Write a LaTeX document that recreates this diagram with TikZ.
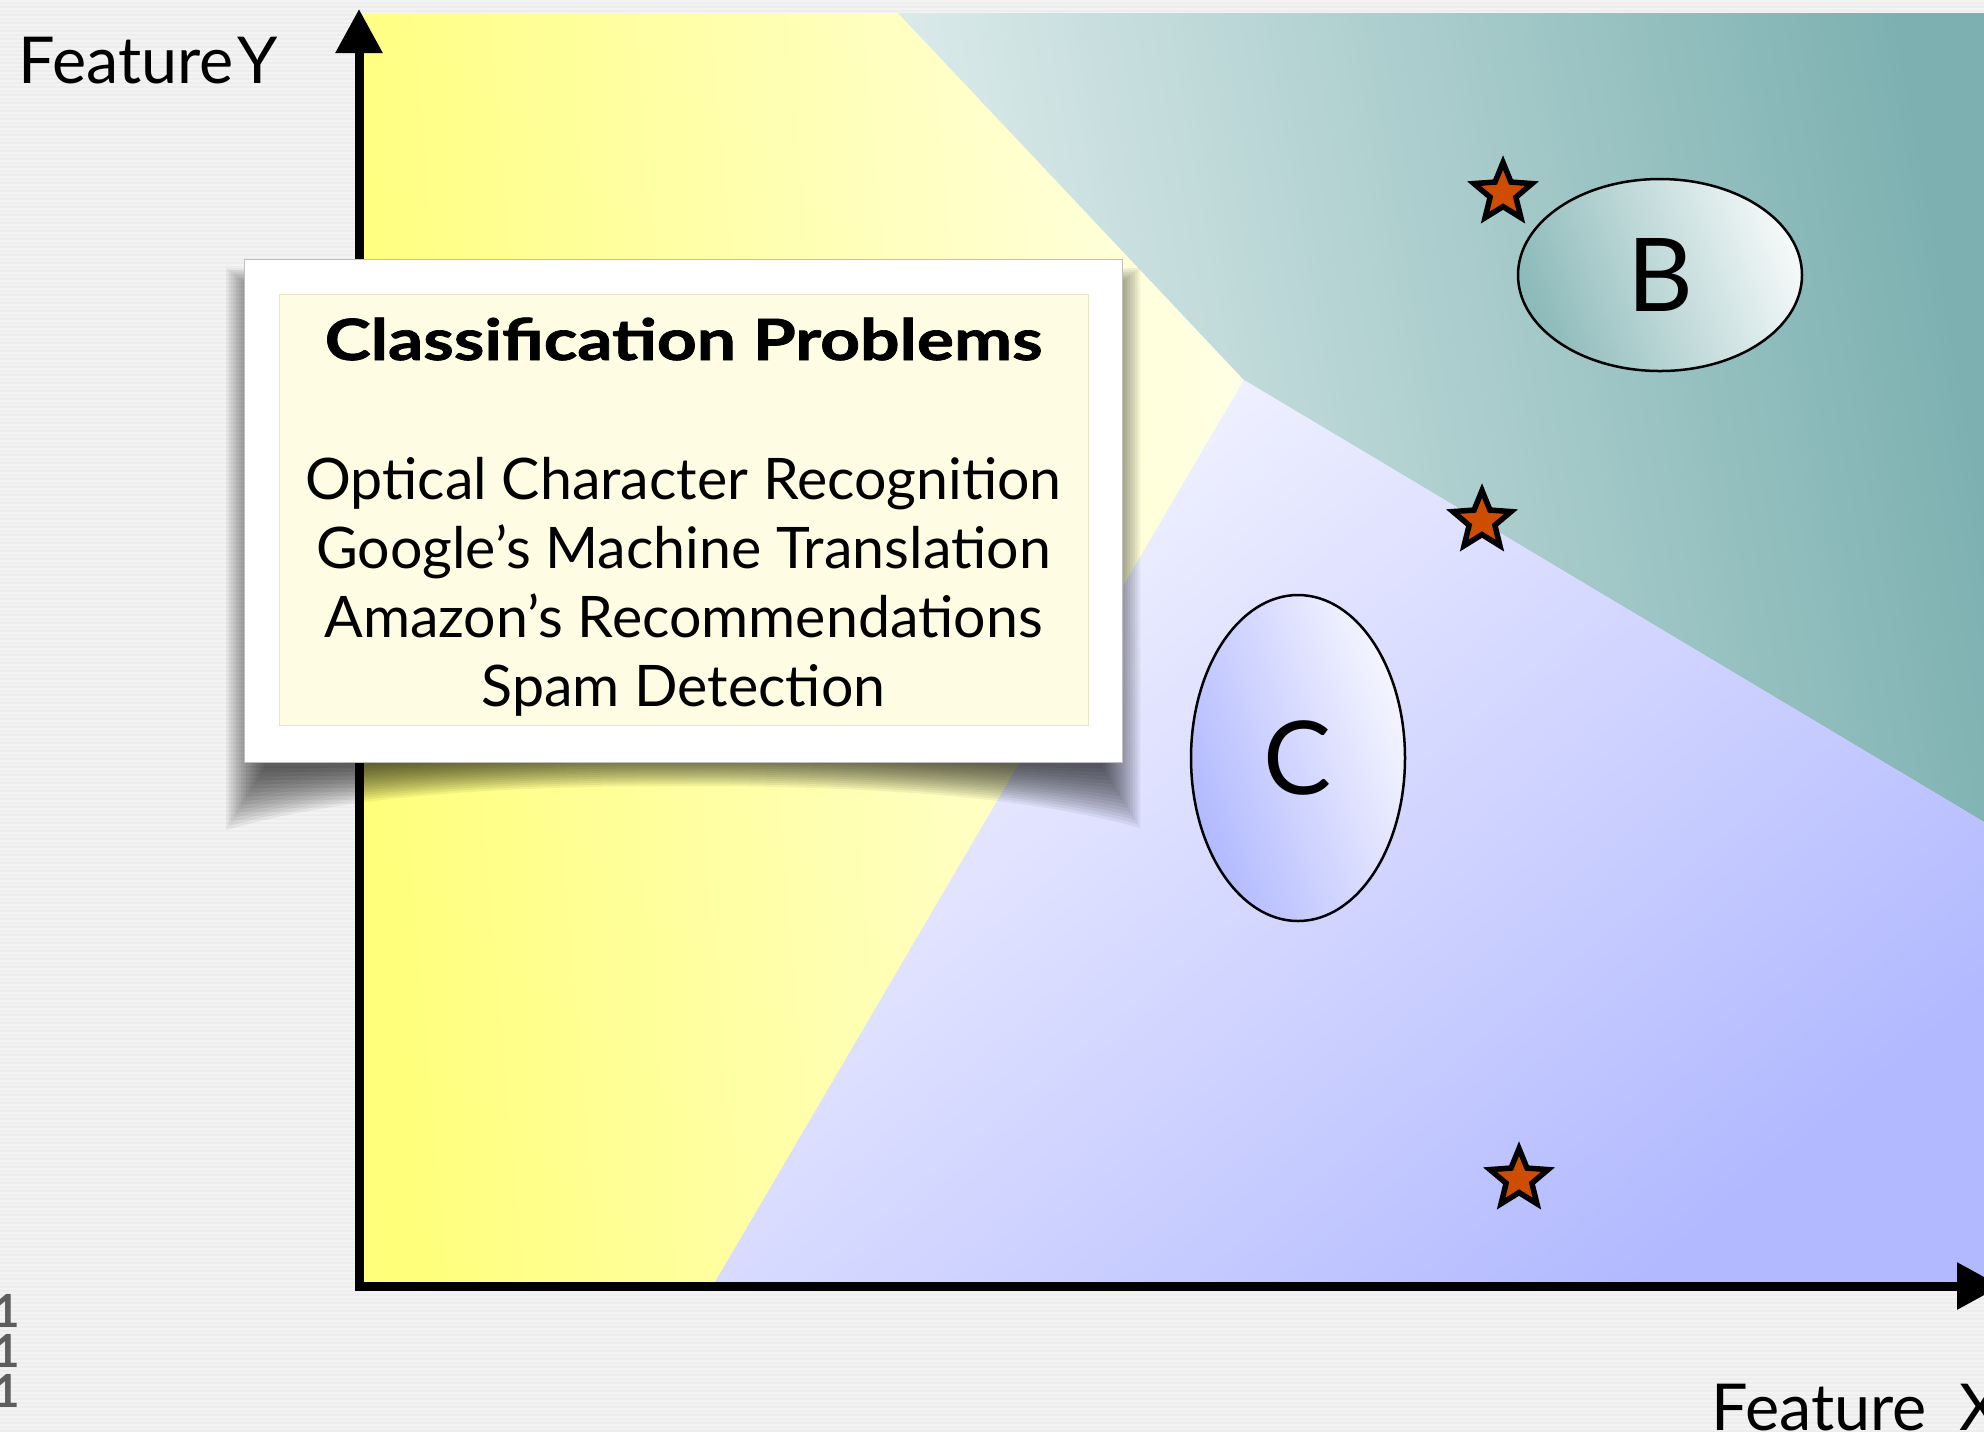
\documentclass[tikz,border=0pt]{standalone}
\usepackage{fontspec}
\setmainfont{Lato}
\usetikzlibrary{shapes.geometric,arrows.meta}

\definecolor{bggray}{HTML}{EDEDED}
\definecolor{bgstripe}{HTML}{F3F3F3}
\definecolor{yelstrong}{HTML}{FFFF7A}
\definecolor{yelpale}{HTML}{FFFFE6}
\definecolor{tealpale}{HTML}{E0EDED}
\definecolor{tealdeep}{HTML}{7DB1B1}
\definecolor{bluepale}{HTML}{F6F6FF}
\definecolor{bluedeep}{HTML}{B2B9FF}
\definecolor{cream}{HTML}{FEFCE3}
\definecolor{creamedge}{HTML}{EAE6CA}
\definecolor{starfill}{HTML}{CF4D00}
\definecolor{ovalteal}{HTML}{8DBABA}
\definecolor{ovaltealpale}{HTML}{F3F8F8}
\definecolor{ovalblue}{HTML}{B0B8FF}
\definecolor{ovalbluepale}{HTML}{F7F7FF}
\definecolor{bitgray}{HTML}{5E5E5E}

\begin{document}
\begin{tikzpicture}[x=0.1mm,y=-0.1mm,
  axisline/.style={line width=0.9mm, line join=miter,
    {Triangle[length=4.4mm,width=4.5mm]}-{Triangle[length=4.4mm,width=4.5mm]}},
  axislabel/.style={inner sep=0, font=\fontsize{18.4pt}{22pt}\selectfont},
  oval/.style={ellipse, draw=black, line width=0.25mm, inner sep=0},
  letter/.style={inner sep=0, font=\fontsize{29pt}{34pt}\selectfont},
  mark star/.style={star, star points=5, star point ratio=2.25,
    minimum size=6.1mm, inner sep=0, draw=black, line width=0.55mm,
    fill=starfill},
  titletext/.style={inner sep=0, font=\fontsize{16.2pt}{19pt}\selectfont\bfseries\addfontfeatures{FakeBold=1.2}},
  itemtext/.style={inner sep=0, font=\fontsize{16.3pt}{19.6pt}\selectfont},
  bits/.style={inner sep=0, text=bitgray, font=\fontsize{13pt}{15pt}\selectfont\bfseries}]

\useasboundingbox (0,0) rectangle (1984,1432);
\clip (0,0) rectangle (1984,1432);

% pinstriped backdrop
\fill[bggray] (0,0) rectangle (1984,1432);
\foreach \s in {0,4,...,1428}
  \fill[bgstripe] (0,\s) rectangle (1984,\s+2);

% the three decision regions
\shade[left color=yelstrong, right color=yelpale, shading angle=95]
  (363,13) -- (898,13) -- (1244,380) -- (715,1282) -- (363,1282) -- cycle;
\shade[left color=tealpale, right color=tealdeep, shading angle=100]
  (898,13) -- (1984,13) -- (1984,822) -- (1244,380) -- cycle;
\shade[top color=bluepale, bottom color=bluedeep, shading angle=40]
  (1244,380) -- (1984,822) -- (1984,1282) -- (715,1282) -- cycle;

% class clusters
\node[oval, minimum width=28.4mm, minimum height=19.2mm,
  left color=ovalteal, right color=ovaltealpale, shading angle=110] (ovalB) at (1660,275) {};
\node[oval, minimum width=21.4mm, minimum height=32.6mm,
  left color=ovalblue, right color=ovalbluepale, shading angle=110] (ovalC) at (1298,758) {};
\node[letter] (labB) at (ovalB.center) {B};
\node[letter] (labC) at (ovalC.center) {C};

% unlabelled samples
\node[mark star] (s1) at (1503,193) {};
\node[mark star] (s2) at (1482,521) {};
\node[mark star] (s3) at (1519,1179) {};

% axes
\coordinate (origin) at (359,1286);
\coordinate (ytip) at (359,9);
\coordinate (xtip) at (2001,1286);
\draw[axisline] (ytip) -- (origin) -- (xtip);

\node[axislabel, anchor=base west] (fy) at (18,83) {Feature\hspace{0.06em}Y};
\node[axislabel, anchor=base west] (fx) at (1711,1430) {Feature\hspace{0.5em}X};

% binary digits peeking in at the left edge
\node[bits, anchor=base east] (b1) at (21,1327) {01};
\node[bits, anchor=base east] (b2) at (21,1367) {01};
\node[bits, anchor=base east] (b3) at (21,1407) {01};

% soft curled shadow under the card
\foreach \k in {0,...,15}
  \fill[black, opacity=0.055]
    (226+\k*2.5,268+\k*2) -- (1140-\k*2.5,268+\k*2) -- (1140-\k*2.5,828-\k*4)
    .. controls (1040,800-\k*2) and (900,786-\k*2) .. (683,786-\k*2)
    .. controls (466,786-\k*2) and (330,800-\k*2) .. (226+\k*2.5,830-\k*4) -- cycle;

% the card
\node[fill=white, draw=black!25, line width=0.1mm, inner sep=0,
  minimum width=87.8mm, minimum height=50.3mm] (card) at (683,510.5) {};
\node[fill=cream, draw=creamedge, line width=0.1mm, inner sep=0,
  minimum width=80.9mm, minimum height=43.1mm] (panel) at (683.5,509.5) {};

\node[titletext, anchor=base] (title) at (683.5,360)
  {\scalebox{1.22}[1]{Classification Problems}};
\node[itemtext, anchor=base] (l1) at (683.5,499) {Optical Character Recognition};
\node[itemtext, anchor=base] (l2) at (683.5,568) {Google’s Machine Translation};
\node[itemtext, anchor=base] (l3) at (683.5,637) {Amazon’s Recommendations};
\node[itemtext, anchor=base] (l4) at (683.5,706) {Spam Detection};

\end{tikzpicture}
\end{document}
